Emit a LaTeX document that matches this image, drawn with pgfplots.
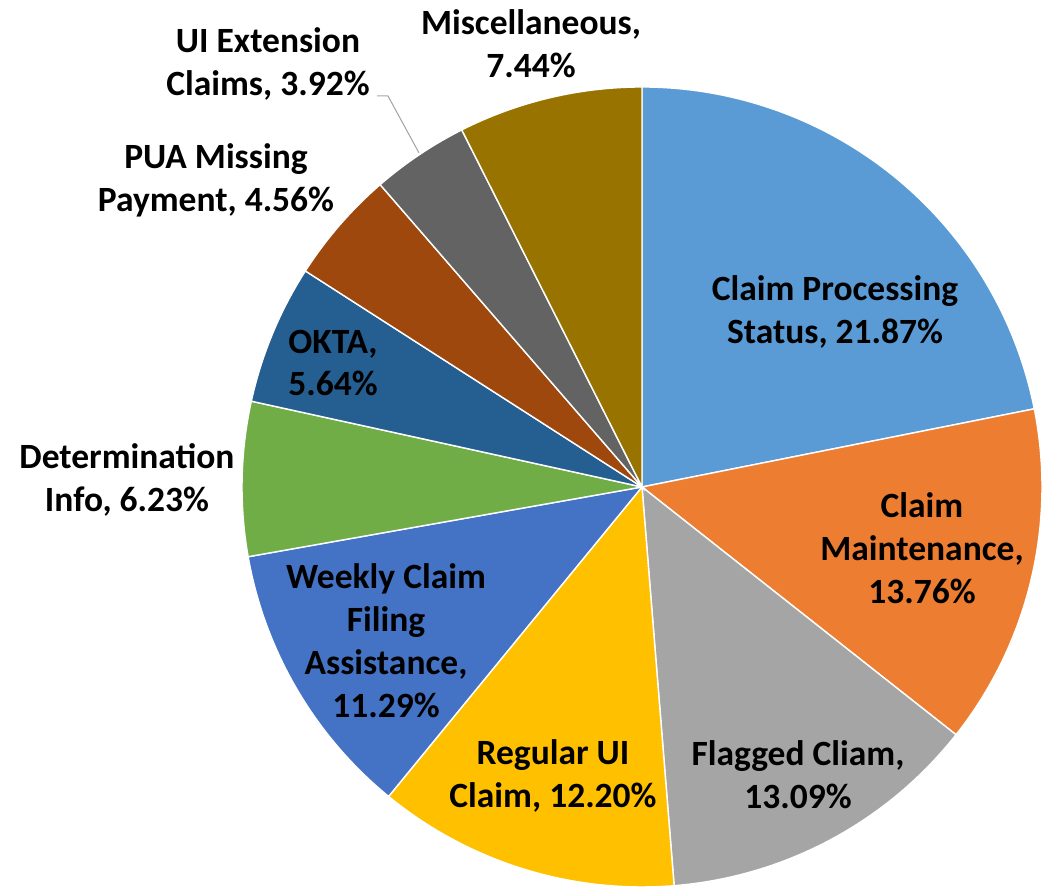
\documentclass[border=0pt]{standalone}
\usepackage{pgfplots}
\pgfplotsset{compat=1.18}
\usepackage{fontspec}
\setmainfont{Carlito}
\definecolor{c1}{HTML}{5B9BD5}
\definecolor{c2}{HTML}{ED7D31}
\definecolor{c3}{HTML}{A5A5A5}
\definecolor{c4}{HTML}{FFC000}
\definecolor{c5}{HTML}{4472C4}
\definecolor{c6}{HTML}{70AD47}
\definecolor{c7}{HTML}{255E91}
\definecolor{c8}{HTML}{9E480E}
\definecolor{c9}{HTML}{636363}
\definecolor{c10}{HTML}{997300}
\tikzset{lbl/.style={font=\bfseries\fontsize{10.1}{12.2}\selectfont, align=center, text=black, inner sep=0pt}}
\begin{document}
\begin{tikzpicture}
\begin{axis}[
  width=10.51cm, height=8.87cm, scale only axis,
  xmin=0, xmax=1051, ymin=0, ymax=887,
  hide axis, clip=false,
]
\gdef\cum{0}
\foreach \v/\c in {21.87/c1, 13.76/c2, 13.09/c3, 12.20/c4, 11.29/c5, 6.23/c6, 5.64/c7, 4.56/c8, 3.92/c9, 7.44/c10}{
  \pgfmathsetmacro\a{90-3.6*\cum}
  \pgfmathsetmacro\b{90-3.6*(\cum+\v)}
  \edef\tmp{\noexpand\addplot[fill=\c, draw=white, line width=0.4pt, domain=\b:\a, samples=80, variable=\noexpand\t]
    ({642+400*cos(\noexpand\t)},{400+400*sin(\noexpand\t)}) -- (642,400) -- cycle;}
  \tmp
  \pgfmathsetmacro\newcum{\cum+\v}
  \global\let\cum\newcum
}
\node[lbl] at (835,575) {Claim Processing\\Status, 21.87\%};
\node[lbl] at (922,339) {Claim\\Maintenance,\\13.76\%};
\node[lbl] at (798,112) {Flagged Cliam,\\13.09\%};
\node[lbl] at (553,111) {Regular UI\\Claim, 12.20\%};
\node[lbl] at (386,246) {Weekly Claim\\Filing\\Assistance,\\11.29\%};
\node[lbl] at (127,407) {Determination\\Info, 6.23\%};
\node[lbl] at (333,524) {OKTA,\\5.64\%};
\node[lbl] at (216,707) {PUA Missing\\Payment, 4.56\%};
\node[lbl] at (268,823) {UI Extension\\Claims, 3.92\%};
\node[lbl] at (531,843) {Miscellaneous,\\7.44\%};
\draw[gray!70, line width=0.3pt] (377,791) -- (388,791) -- (419,734);
\end{axis}
\pgfresetboundingbox
\path (0,0) rectangle (10.51cm,8.87cm);
\end{tikzpicture}
\end{document}
